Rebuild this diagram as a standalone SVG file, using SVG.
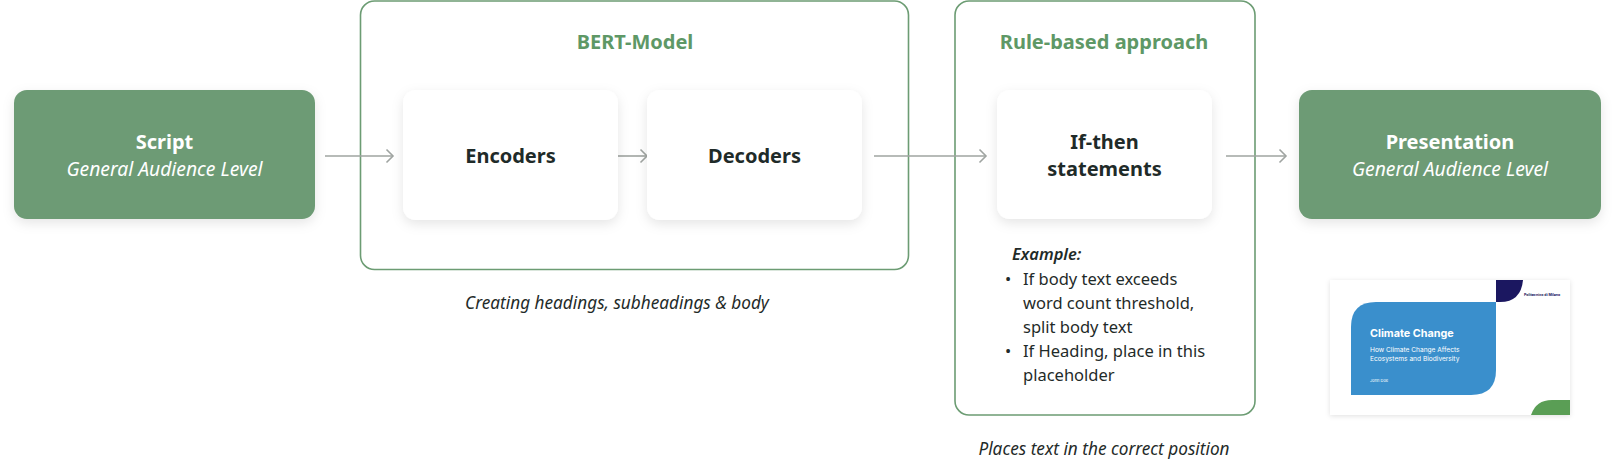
<svg xmlns="http://www.w3.org/2000/svg" width="1615" height="460" viewBox="0 0 1615 460">
<style>
.container{fill:#fff;stroke:#6c9c73;stroke-width:1.6}
.green{fill:#6d9b74}
.white{fill:#fff}
.title{font-family:"Noto Sans",sans-serif;font-weight:700;font-size:20px;fill:#5e9866;text-anchor:middle}
.head{font-family:"Noto Sans",sans-serif;font-weight:700;font-size:20px;fill:#1f2b29;text-anchor:middle}
.headw{font-family:"Noto Sans",sans-serif;font-weight:700;font-size:20px;fill:#fff;text-anchor:middle}
.subw{font-family:"Noto Sans",sans-serif;font-style:italic;font-size:19.3px;fill:#fff;text-anchor:middle}
.cap{font-family:"Noto Sans",sans-serif;font-style:italic;font-size:17.2px;fill:#1f2b29;text-anchor:middle}
.body{font-family:"Noto Sans",sans-serif;font-size:16.5px;fill:#1f2b29}
.conn{stroke:#9fa4a1;stroke-width:1.6;fill:none}
</style>
<defs>
<filter id="sh" x="-20%" y="-20%" width="140%" height="150%">
<feDropShadow dx="0" dy="4" stdDeviation="6" flood-color="#000" flood-opacity="0.1"/>
</filter>
<filter id="sh2" x="-10%" y="-10%" width="120%" height="130%">
<feDropShadow dx="0" dy="1" stdDeviation="2.5" flood-color="#000" flood-opacity="0.12"/>
</filter>
<marker id="arr" markerWidth="12" markerHeight="16" refX="8" refY="8" orient="auto" markerUnits="userSpaceOnUse">
<path d="M1.5,1.5 L8,8 L1.5,14.5" fill="none" stroke="#9fa4a1" stroke-width="1.6"/>
</marker>
</defs>
<rect width="1615" height="460" fill="#fff"/>

<g id="bert-model">
<rect class="container" x="360.5" y="1" width="548" height="268.5" rx="14"/>
<text class="title" x="635" y="49">BERT-Model</text>
</g>
<g id="rule-based">
<rect class="container" x="955" y="1" width="300" height="414" rx="14"/>
<text class="title" x="1104" y="49">Rule-based approach</text>
<text class="body" font-style="italic" font-weight="600" x="1012" y="260">Example:</text>
<text class="body" x="1005" y="285">•</text>
<text class="body" x="1023" y="285">If body text exceeds</text>
<text class="body" x="1023" y="309">word count threshold,</text>
<text class="body" x="1023" y="333">split body text</text>
<text class="body" x="1005" y="357">•</text>
<text class="body" x="1023" y="357">If Heading, place in this</text>
<text class="body" x="1023" y="381">placeholder</text>
</g>

<g id="connectors">
<line class="conn" x1="325" y1="156" x2="393" y2="156" marker-end="url(#arr)"/>
<line class="conn" x1="618" y1="156" x2="647" y2="156" marker-end="url(#arr)"/>
<line class="conn" x1="874" y1="156" x2="986" y2="156" marker-end="url(#arr)"/>
<line class="conn" x1="1226" y1="156" x2="1286" y2="156" marker-end="url(#arr)"/>
</g>

<g id="script">
<rect class="green" x="14" y="90" width="301" height="129" rx="13" filter="url(#sh)"/>
<text class="headw" x="164.5" y="149">Script</text>
<text class="subw" x="164.5" y="176">General Audience Level</text>
</g>
<g id="encoders">
<rect class="white" x="403" y="90" width="215" height="130" rx="13" filter="url(#sh)"/>
<text class="head" x="510.5" y="163">Encoders</text>
</g>
<g id="decoders">
<rect class="white" x="647" y="90" width="215" height="130" rx="13" filter="url(#sh)"/>
<text class="head" x="754.5" y="163">Decoders</text>
</g>
<g id="if-then">
<rect class="white" x="997" y="90" width="215" height="129" rx="13" filter="url(#sh)"/>
<text class="head" x="1104.5" y="149">If-then</text>
<text class="head" x="1104.5" y="176">statements</text>
</g>
<g id="presentation">
<rect class="green" x="1299" y="90" width="302" height="129" rx="13" filter="url(#sh)"/>
<text class="headw" x="1450" y="149">Presentation</text>
<text class="subw" x="1450" y="176">General Audience Level</text>
</g>

<g id="captions">
<text class="cap" x="617" y="309">Creating headings, subheadings &amp; body</text>
<text class="cap" x="1104" y="455">Places text in the correct position</text>
</g>

<g id="slide-thumbnail">
<rect x="1330" y="280" width="240" height="135" fill="#fff" filter="url(#sh2)"/>
<path d="M1376,302 L1496,302 L1496,370 Q1496,395 1471,395 L1351,395 L1351,327 Q1351,302 1376,302 Z" fill="#3a8fcc"/>
<path d="M1496,280 L1523,280 Q1521,302 1500,302 L1496,302 Z" fill="#1b1760"/>
<path d="M1531,415 Q1536,400 1552,400 L1570,400 L1570,415 Z" fill="#5a9e55"/>
<text x="1370" y="337" font-family="Inter,sans-serif" font-weight="700" font-size="10.8" fill="#fff">Climate Change</text>
<text x="1370" y="352" font-family="Inter,sans-serif" font-size="6.6" fill="#fff">How Climate Change Affects</text>
<text x="1370" y="361" font-family="Inter,sans-serif" font-size="6.6" fill="#fff">Ecosystems and Biodiversity</text>
<text x="1370" y="382" font-family="Inter,sans-serif" font-size="4" fill="#fff">John Doe</text>
<text x="1524" y="296" font-family="Inter,sans-serif" font-weight="700" font-size="3.6" fill="#1b1760">Politecnico di Milano</text>
</g>
</svg>
